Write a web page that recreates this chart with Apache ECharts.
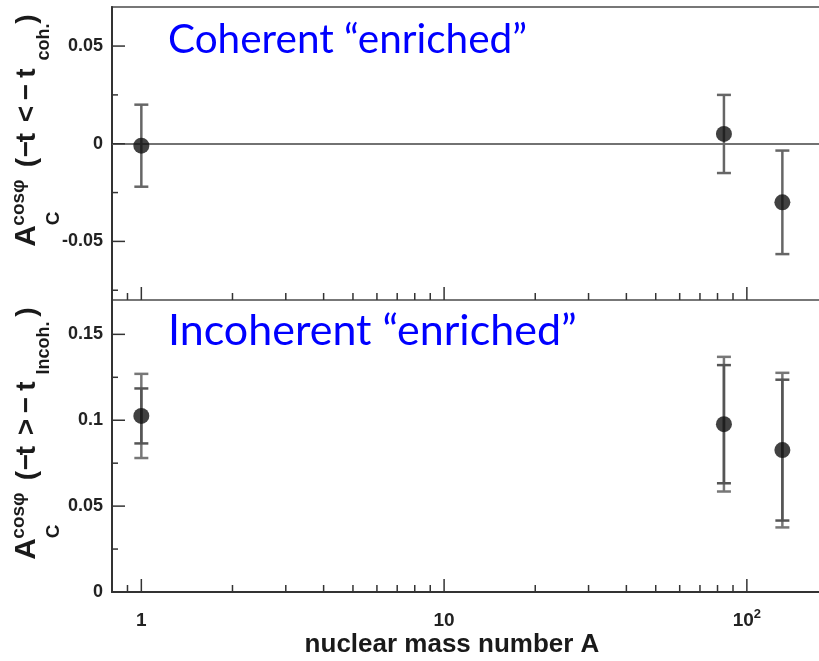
<!DOCTYPE html>
<html><head><meta charset="utf-8">
<script src="https://cdn.jsdelivr.net/npm/echarts@6/dist/echarts.min.js"></script>
<style>html,body{margin:0;padding:0;background:#fff}#c{width:819px;height:661px}</style>
</head><body><div id="c"></div>
<script>
// ---- data ----
const massNumbers = [1, 84, 131];
const cohValues = [-0.001, 0.005, -0.030];
const cohErrors = [0.021, 0.020, 0.0265];
const incohValues = [0.1025, 0.0977, 0.0826];
const incohStatErrors = [0.016, 0.0344, 0.041];
const incohTotalErrors = [0.0245, 0.0392, 0.045];
const xMajorTicks = [1, 10, 100];
const xMinorTicks = [0.9, 2, 3, 4, 5, 6, 7, 8, 9, 20, 30, 40, 50, 60, 70, 80, 90];
const cohYMajor = [-0.05, 0, 0.05];
const cohYMinor = [-0.075, -0.025, 0.025];
const incohYMajor = [0, 0.05, 0.1, 0.15];
const incohYMinor = [0.025, 0.075, 0.125];

const FONT = '"Liberation Sans", Arial, Helvetica, sans-serif';
const AX = '#333';

function xTickSeries(g, vals, len) {
  return {
    type: 'custom', xAxisIndex: g, yAxisIndex: g, silent: true, clip: false, z: 6,
    data: vals.map(v => [v, g === 0 ? 0 : 0.05]), encode: {x: 0, y: 1},
    renderItem: (params, api) => {
      const cs = params.coordSys;
      const px = api.coord([api.value(0), api.value(1)])[0];
      const yb = cs.y + cs.height;
      return {type: 'line', shape: {x1: px, y1: yb, x2: px, y2: yb - len},
        style: {stroke: AX, lineWidth: 1.5}};
    }
  };
}
function yTickSeries(g, vals, len) {
  return {
    type: 'custom', xAxisIndex: g, yAxisIndex: g, silent: true, clip: false, z: 6,
    data: vals.map(v => [1, v]), encode: {x: 0, y: 1},
    renderItem: (params, api) => {
      const cs = params.coordSys;
      const py = api.coord([api.value(0), api.value(1)])[1];
      return {type: 'line', shape: {x1: cs.x, y1: py, x2: cs.x + len, y2: py},
        style: {stroke: AX, lineWidth: 1.5}};
    }
  };
}
function errSeries(g, xs, ys, errs, color, width, cap, z) {
  return {
    type: 'custom', xAxisIndex: g, yAxisIndex: g, silent: true, z: z,
    data: xs.map((x, i) => [x, ys[i], errs[i]]), encode: {x: 0, y: 1},
    renderItem: (params, api) => {
      const x = api.value(0), y = api.value(1), e = api.value(2);
      const hi = api.coord([x, y + e]), lo = api.coord([x, y - e]);
      const h = cap / 2, st = {stroke: color, lineWidth: width};
      return {type: 'group', children: [
        {type: 'line', shape: {x1: hi[0], y1: hi[1], x2: lo[0], y2: lo[1]}, style: st},
        {type: 'line', shape: {x1: hi[0] - h, y1: hi[1], x2: hi[0] + h, y2: hi[1]}, style: st},
        {type: 'line', shape: {x1: lo[0] - h, y1: lo[1], x2: lo[0] + h, y2: lo[1]}, style: st}
      ]};
    }
  };
}
function isDecade(v) { const l = Math.log10(v); return Math.abs(l - Math.round(l)) < 1e-6; }

// y-axis title tokens (u = distance along text from start, b = baseline screen x)
function yTitle(y0, relSym, subText, subU, closeU) {
  const tok = (text, u, size, b) => ({
    type: 'text', x: u, y: b - 0.35 * size,
    style: {text: text, font: 'bold ' + size + 'px ' + FONT, fill: '#1a1a1a', align: 'center', verticalAlign: 'middle'}
  });
  return {
    type: 'group', x: 0, y: y0, rotation: Math.PI / 2, silent: true,
    children: [
      tok('A', 9, 30, 37),
      tok('cos\u03C6', 42.5, 19, 25),
      tok('C', 26.5, 19, 60),
      tok('(', 82.5, 28, 37),
      tok('\u2212', 96, 28, 37),
      tok('t', 107.5, 28, 37),
      tok(relSym, 131, 28, 37),
      tok('\u2212', 153, 28, 37),
      tok('t', 172, 28, 37),
      tok(subText, subU, 18, 50),
      tok(')', closeU, 28, 37)
    ]
  };
}

const chart = echarts.init(document.getElementById('c'), null, {renderer: 'canvas'});
const baseX = {
  type: 'log', logBase: 10, min: 0.8, max: 200,
  axisLine: {show: true, lineStyle: {color: AX, width: 2}},
  axisTick: {show: false}, splitLine: {show: false}, minorTick: {show: false}
};
const baseY = {
  type: 'value',
  axisLine: {show: true, lineStyle: {color: AX, width: 2}},
  axisTick: {show: false}, splitLine: {show: false},
  axisLabel: {fontFamily: FONT, fontWeight: 'bold', fontSize: 18, color: '#222', margin: 9,
    formatter: v => String(+(+v).toFixed(3))}
};
chart.setOption({
  animation: false,
  grid: [
    {left: 112, top: 7, right: -19, height: 293, show: true, borderColor: '#777', borderWidth: 2, outerBoundsMode: 'none', containLabel: false},
    {left: 112, top: 300, right: -19, height: 292, show: true, borderColor: '#777', borderWidth: 2, outerBoundsMode: 'none', containLabel: false}
  ],
  xAxis: [
    Object.assign({}, baseX, {gridIndex: 0, axisLabel: {show: false}}),
    Object.assign({}, baseX, {gridIndex: 1, axisLabel: {
      show: true, showMinLabel: false, showMaxLabel: false, margin: 16,
      fontFamily: FONT, fontWeight: 'bold', fontSize: 19, color: '#222',
      formatter: v => { if (!isDecade(v)) return ''; const p = Math.round(Math.log10(v));
        return p >= 2 ? '{b|10}{s|' + p + '}' : '{b|' + Math.pow(10, p) + '}'; },
      rich: {
        b: {fontFamily: FONT, fontWeight: 'bold', fontSize: 19, color: '#222', lineHeight: 26},
        s: {fontFamily: FONT, fontWeight: 'bold', fontSize: 13, color: '#222', verticalAlign: 'top', lineHeight: 14}
      }
    }})
  ],
  yAxis: [
    Object.assign({}, baseY, {gridIndex: 0, min: -0.08, max: 0.07,
      axisLabel: Object.assign({}, baseY.axisLabel, {customValues: cohYMajor})}),
    Object.assign({}, baseY, {gridIndex: 1, min: 0, max: 0.17,
      axisLabel: Object.assign({}, baseY.axisLabel, {customValues: incohYMajor})})
  ],
  series: [
    xTickSeries(0, xMajorTicks, 13), xTickSeries(0, xMinorTicks, 7),
    xTickSeries(1, xMajorTicks, 13), xTickSeries(1, xMinorTicks, 7),
    yTickSeries(0, cohYMajor, 13), yTickSeries(0, cohYMinor, 6),
    yTickSeries(1, incohYMajor, 13), yTickSeries(1, incohYMinor, 6),
    errSeries(0, massNumbers, cohValues, cohErrors, '#666', 2.5, 14, 3),
    errSeries(1, massNumbers, incohValues, incohTotalErrors, '#777', 2.5, 14, 3),
    errSeries(1, massNumbers, incohValues, incohStatErrors, '#555', 2.5, 14, 4),
    {
      type: 'scatter', xAxisIndex: 0, yAxisIndex: 0, z: 5, symbolSize: 16,
      itemStyle: {color: '#111'}, data: massNumbers.map((x, i) => [x, cohValues[i]]),
      markLine: {silent: true, symbol: 'none', z: 2, label: {show: false},
        lineStyle: {color: '#888', width: 1.5, type: 'solid'}, data: [{yAxis: 0}]}
    },
    {
      type: 'scatter', xAxisIndex: 1, yAxisIndex: 1, z: 5, symbolSize: 16,
      itemStyle: {color: '#111'}, data: massNumbers.map((x, i) => [x, incohValues[i]])
    }
  ],
  graphic: [
    yTitle(245, '<', 'coh.', 203, 226),
    yTitle(558, '>', 'Incoh.', 210, 246),
    {type: 'text', x: 452, y: 645, silent: true,
      style: {text: 'nuclear mass number A', font: 'bold 26px ' + FONT, fill: '#1a1a1a', align: 'center', verticalAlign: 'middle'}},
    {type: 'text', x: 168, y: 40, silent: true,
      style: {text: 'Coherent \u201Cenriched\u201D', font: '40.5px Lato, "Open Sans", sans-serif', fill: '#0000ff', align: 'left', verticalAlign: 'middle'}},
    {type: 'text', x: 168, y: 331, silent: true,
      style: {text: 'Incoherent \u201Cenriched\u201D', font: '43px Lato, "Open Sans", sans-serif', fill: '#0000ff', align: 'left', verticalAlign: 'middle'}}
  ]
});
</script></body></html>
